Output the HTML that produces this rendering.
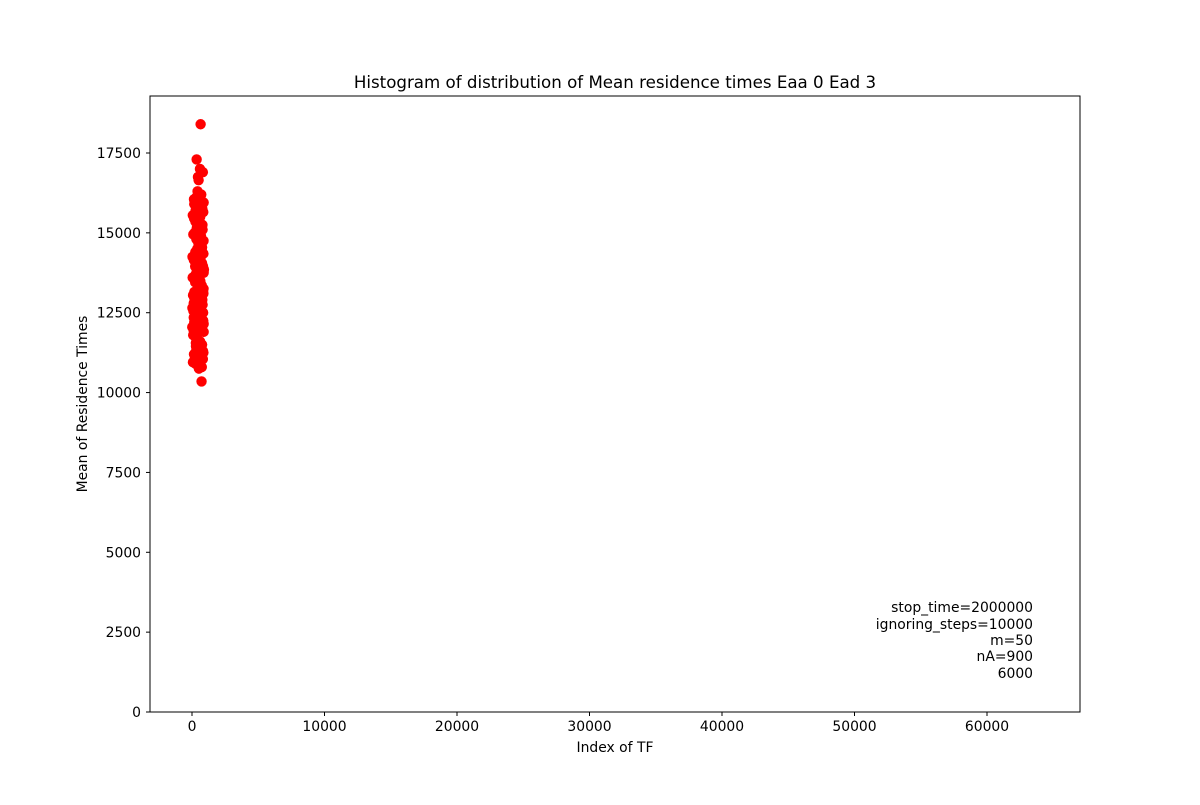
<!DOCTYPE html>
<html><head><meta charset="utf-8"><style>
body{margin:0;background:#fff;}
svg{font-family:"DejaVu Sans","Liberation Sans",sans-serif;}
</style></head><body>
<svg id="chart" width="1200" height="800">
<rect x="0" y="0" width="1200" height="800" fill="#fff"/>
<text x="615" y="88" font-size="16.67" text-anchor="middle">Histogram of distribution of Mean residence times Eaa 0 Ead 3</text>
<g id="marks"></g>
<rect x="150" y="96" width="930" height="616" fill="none" stroke="#000" stroke-width="1"/>
<g id="xt"></g><g id="yt"></g>
<text x="615" y="752" font-size="13.9" text-anchor="middle">Index of TF</text>
<text transform="translate(87,404) rotate(-90)" font-size="13.9" text-anchor="middle">Mean of Residence Times</text>
<g font-size="13.9" text-anchor="end">
<text x="1033" y="612">stop_time=2000000</text>
<text x="1033" y="629">ignoring_steps=10000</text>
<text x="1033" y="645">m=50</text>
<text x="1033" y="661">nA=900</text>
<text x="1033" y="678">6000</text>
</g>
</svg>
<script>
const xTicks=[0,10000,20000,30000,40000,50000,60000];
const yTicks=[0,2500,5000,7500,10000,12500,15000,17500];
const idx=[650,350,450,600,820,500,420,700,880,300,550,150,250,780,620,480,380,850,720,200,560,680,330,470,800,100,600,400,870,250,520,740,180,660,350,830,450,580,280,760,50,900,620,410,690,220,540,860,310,470,780,130,590,720,380,840,260,500,650,170,800,430,560,880,90,700,340,610,760,220,490,830,150,570,680,400,270,860,520,740,200,630,310,450,790,110,580,710,360,850,240,490,660,800,180,420,550,880,300,720,
60,160,260,360,460,560,660,760,860,40,140,240,340,440,540,640,740,840,80,180,280,380,480,580,680,780,880,20,120,220,320,420,520,620,720,820,70,170,270,370,470,570,670,770,870,30,130,230,330,430,530,630,730,830,90,190,290,390,490,590];
const vals=[18400,17300,16750,17000,16900,16650,16300,16200,15950,16100,15800,16050,15600,15750,15500,15400,15300,15650,15200,15000,15100,14900,14800,14700,15100,14950,14600,14500,14750,14400,14300,14450,14200,14100,14000,14350,13900,13800,13700,14050,13600,13850,13500,13400,13300,13550,13200,13100,13000,13250,12900,12800,12700,12950,12600,12500,12400,12650,12300,12200,12100,12450,12000,11900,11800,12150,11700,11600,11500,11850,11400,11300,11200,11550,11100,11000,10900,11250,10750,10800,11150,13350,14150,12850,15250,12550,13650,14650,11950,12250,13450,12050,14250,12750,13150,11650,14850,13750,11450,10350,
15550,15450,15350,15150,15050,14950,14850,14550,14350,14250,14150,13950,13750,13650,13550,13450,13350,13150,13050,12950,12850,12750,12550,12450,12350,12250,12150,12050,11950,11850,11750,11650,11450,11350,11250,11050,10950,15900,15700,15500,15300,14650,14450,13850,13250,12650,12350,11750,11350,11150,15850,15200,14550,13950,13050,12650,11550,11050,14050,12900];
const X=v=>192+v*(987-192)/60000, Y=v=>712-v*(712-153)/17500;
const ns="http://www.w3.org/2000/svg";
const m=document.getElementById('marks');
idx.forEach((d,i)=>{const c=document.createElementNS(ns,'circle');c.setAttribute('cx',X(d));c.setAttribute('cy',Y(vals[i]));c.setAttribute('r',5.2);c.setAttribute('fill','#ff0000');


m.appendChild(c);});
const xt=document.getElementById('xt');
xTicks.forEach(t=>{const x=X(t);const l=document.createElementNS(ns,'line');l.setAttribute('x1',x);l.setAttribute('x2',x);l.setAttribute('y1',712);l.setAttribute('y2',716);l.setAttribute('stroke','#000');xt.appendChild(l);
const s=document.createElementNS(ns,'text');s.setAttribute('x',x);s.setAttribute('y',731);s.setAttribute('font-size',13.9);s.setAttribute('text-anchor','middle');s.textContent=t;


xt.appendChild(s);});
const yt=document.getElementById('yt');
yTicks.forEach(t=>{const y=Y(t);const l=document.createElementNS(ns,'line');l.setAttribute('x1',146);l.setAttribute('x2',150);l.setAttribute('y1',y);l.setAttribute('y2',y);l.setAttribute('stroke','#000');yt.appendChild(l);
const s=document.createElementNS(ns,'text');s.setAttribute('x',141);s.setAttribute('y',y+5);s.setAttribute('font-size',13.9);s.setAttribute('text-anchor','end');s.textContent=t;


yt.appendChild(s);});
</script>
</body></html>
